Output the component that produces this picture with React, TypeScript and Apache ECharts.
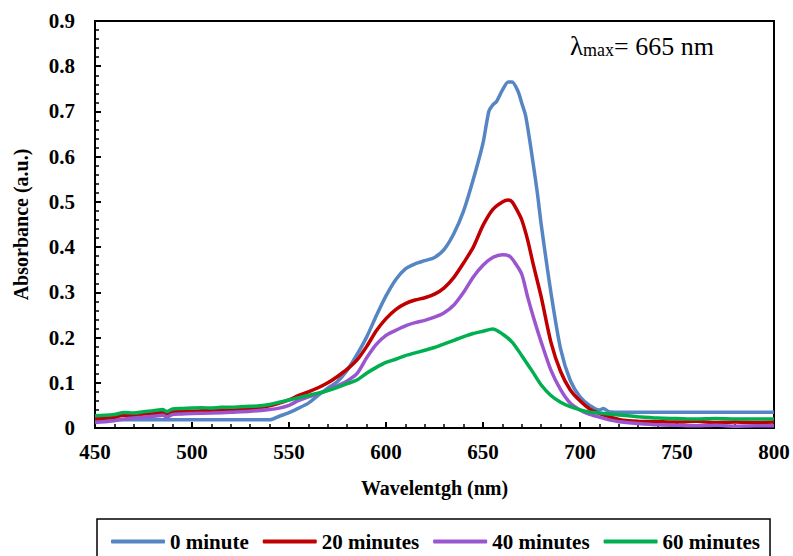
import React, { useEffect, useRef } from "react";
import * as echarts from "echarts";

const seriesNames = ["0 minute", "20 minutes", "40 minutes", "60 minutes"];
const seriesColors = ["#5585C3", "#C00000", "#9A55CF", "#00B050"];

const wl0 = [450, 460, 470, 480, 490, 500, 510, 520, 530, 540, 545, 550, 555, 560, 565, 570, 575, 580, 585, 590, 595, 600, 605, 610, 615, 620, 625, 630, 635, 640, 645, 650, 653, 655, 657, 660, 663, 665, 668, 670, 672, 675, 678, 680, 685, 690, 695, 700, 705, 710, 712, 715, 720, 740, 760, 780, 800];
const abs0 = [0.018, 0.018, 0.018, 0.018, 0.018, 0.018, 0.018, 0.018, 0.018, 0.018, 0.026, 0.034, 0.044, 0.055, 0.072, 0.088, 0.103, 0.128, 0.162, 0.201, 0.248, 0.292, 0.328, 0.352, 0.363, 0.37, 0.377, 0.395, 0.43, 0.48, 0.55, 0.63, 0.7, 0.714, 0.722, 0.747, 0.765, 0.765, 0.745, 0.718, 0.69, 0.61, 0.52, 0.45, 0.3, 0.175, 0.105, 0.069, 0.05, 0.04, 0.043, 0.036, 0.035, 0.035, 0.035, 0.035, 0.035];

const wl20 = [450, 455, 460, 465, 470, 475, 480, 485, 487, 490, 495, 500, 505, 510, 515, 520, 525, 530, 535, 540, 545, 550, 555, 560, 565, 570, 575, 580, 585, 590, 595, 600, 605, 610, 615, 620, 625, 630, 635, 640, 645, 650, 655, 660, 663, 665, 668, 670, 673, 676, 680, 685, 690, 695, 700, 705, 710, 715, 720, 725, 730, 740, 750, 760, 770, 780, 790, 800];
const abs20 = [0.02, 0.022, 0.024, 0.028, 0.027, 0.031, 0.032, 0.035, 0.031, 0.036, 0.037, 0.037, 0.038, 0.039, 0.039, 0.04, 0.041, 0.043, 0.045, 0.049, 0.055, 0.062, 0.072, 0.08, 0.089, 0.1, 0.114, 0.13, 0.15, 0.18, 0.215, 0.242, 0.262, 0.275, 0.283, 0.288, 0.296, 0.31, 0.333, 0.365, 0.4, 0.448, 0.483, 0.5, 0.504, 0.5, 0.478, 0.46, 0.416, 0.36, 0.29, 0.19, 0.125, 0.084, 0.06, 0.042, 0.032, 0.025, 0.019, 0.016, 0.015, 0.014, 0.013, 0.015, 0.012, 0.013, 0.012, 0.013];

const wl40 = [450, 455, 460, 465, 470, 475, 480, 485, 487, 490, 495, 500, 510, 520, 530, 540, 545, 550, 555, 560, 565, 570, 575, 580, 585, 590, 595, 600, 605, 610, 615, 620, 625, 630, 635, 640, 645, 650, 655, 660, 664, 667, 670, 673, 676, 680, 685, 690, 695, 700, 705, 710, 715, 720, 730, 740, 750, 760, 770, 780, 790, 800];
const abs40 = [0.012, 0.014, 0.016, 0.02, 0.022, 0.024, 0.026, 0.028, 0.024, 0.03, 0.031, 0.032, 0.033, 0.035, 0.037, 0.041, 0.044, 0.05, 0.061, 0.069, 0.076, 0.084, 0.093, 0.104, 0.12, 0.155, 0.185, 0.205, 0.216, 0.226, 0.233, 0.238, 0.245, 0.255, 0.272, 0.3, 0.334, 0.36, 0.377, 0.383, 0.379, 0.362, 0.34, 0.29, 0.245, 0.19, 0.128, 0.085, 0.055, 0.04, 0.03, 0.024, 0.018, 0.014, 0.01, 0.007, 0.006, 0.005, 0.006, 0.004, 0.005, 0.005];

const wl60 = [450, 455, 460, 465, 470, 475, 480, 485, 487, 490, 495, 500, 505, 510, 515, 520, 525, 530, 535, 540, 545, 550, 555, 560, 565, 570, 575, 580, 585, 590, 595, 600, 605, 610, 615, 620, 625, 630, 635, 640, 645, 650, 655, 660, 665, 670, 675, 680, 685, 690, 695, 700, 705, 710, 720, 730, 740, 750, 760, 770, 780, 790, 800];
const abs60 = [0.027, 0.028, 0.03, 0.034, 0.033, 0.036, 0.038, 0.041, 0.036, 0.042, 0.043, 0.044, 0.045, 0.044, 0.046, 0.046, 0.047, 0.048, 0.049, 0.052, 0.057, 0.062, 0.067, 0.072, 0.077, 0.083, 0.09, 0.098, 0.106, 0.121, 0.134, 0.145, 0.152, 0.16, 0.166, 0.172, 0.178, 0.186, 0.194, 0.202, 0.209, 0.214, 0.219, 0.208, 0.19, 0.16, 0.128, 0.095, 0.072, 0.057, 0.047, 0.04, 0.035, 0.033, 0.029, 0.025, 0.022, 0.021, 0.02, 0.021, 0.02, 0.02, 0.02];

const xTickValues = [450, 500, 550, 600, 650, 700, 750, 800];
const yTickValues = [0, 0.1, 0.2, 0.3, 0.4, 0.5, 0.6, 0.7, 0.8, 0.9];

const FONT = "Liberation Serif";

export default function App() {
  const ref = useRef<HTMLDivElement>(null);
  useEffect(() => {
    if (!ref.current) return;
    const chart = echarts.init(ref.current, null, { renderer: "svg" });
    const xs = [wl0, wl20, wl40, wl60];
    const ys = [abs0, abs20, abs40, abs60];
    chart.setOption({
      animation: false,
      backgroundColor: "#ffffff",
      textStyle: { fontFamily: FONT },
      grid: { left: 95, right: 19, top: 21, bottom: 128, show: true, borderColor: "#000", borderWidth: 2, backgroundColor: "transparent" },
      xAxis: {
        type: "value",
        min: xTickValues[0],
        max: xTickValues[xTickValues.length - 1],
        interval: 50,
        name: "Wavelentgh (nm)",
        nameLocation: "middle",
        nameGap: 50,
        nameTextStyle: { fontFamily: FONT, fontWeight: "bold", fontSize: 20, color: "#000" },
        axisLine: { lineStyle: { color: "#000", width: 2 } },
        axisTick: { inside: true, length: 6, lineStyle: { color: "#000", width: 2 } },
        minorTick: { show: true, splitNumber: 5, length: 4, lineStyle: { color: "#000", width: 1.5 } },
        splitLine: { show: false },
        axisLabel: { fontFamily: FONT, fontWeight: "bold", fontSize: 21, color: "#000", margin: 13 },
      },
      yAxis: {
        type: "value",
        min: yTickValues[0],
        max: yTickValues[yTickValues.length - 1],
        interval: 0.1,
        name: "Absorbance (a.u.)",
        nameLocation: "middle",
        nameGap: 64,
        nameTextStyle: { fontFamily: FONT, fontWeight: "bold", fontSize: 20, color: "#000" },
        axisLine: { show: true, lineStyle: { color: "#000", width: 2 } },
        axisTick: { show: true, inside: true, length: 6, lineStyle: { color: "#000", width: 2 } },
        minorTick: { show: true, splitNumber: 5, length: 4, lineStyle: { color: "#000", width: 1.5 } },
        splitLine: { show: false },
        axisLabel: { fontFamily: FONT, fontWeight: "bold", fontSize: 21, color: "#000", margin: 20, formatter: (v: number) => (v === 0 ? "0" : v.toFixed(1)) },
      },
      legend: {
        left: 97,
        top: 519,
        orient: "horizontal",
        data: seriesNames,
        icon: "roundRect",
        itemWidth: 54,
        itemHeight: 4,
        itemGap: 14,
        padding: [12, 10, 30, 14],
        borderColor: "#000",
        borderWidth: 1.5,
        textStyle: { fontFamily: FONT, fontWeight: "bold", fontSize: 21, color: "#000" },
      },
      graphic: [
        {
          type: "text",
          left: 570,
          top: 32,
          style: {
            text: "{a|λ}{b|max}{c|= 665 nm}",
            rich: {
              a: { fontFamily: FONT, fontSize: 27, color: "#000", verticalAlign: "bottom" },
              b: { fontFamily: FONT, fontSize: 18, color: "#000", padding: [12, 0, 0, 0], verticalAlign: "bottom" },
              c: { fontFamily: FONT, fontSize: 26, color: "#000", verticalAlign: "bottom" },
            },
          },
        },
      ],
      series: seriesNames.map((name, i) => ({
        name,
        type: "line",
        showSymbol: false,
        symbol: "none",
        smooth: 0.25,
        color: seriesColors[i],
        lineStyle: { color: seriesColors[i], width: 3.5 },
        data: xs[i].map((x, j) => [x, ys[i][j]]),
        z: 2 + i,
      })),
    });
    return () => chart.dispose();
  }, []);
  return <div ref={ref} style={{ width: 793, height: 556, position: "absolute", left: 0, top: 0 }} />;
}
